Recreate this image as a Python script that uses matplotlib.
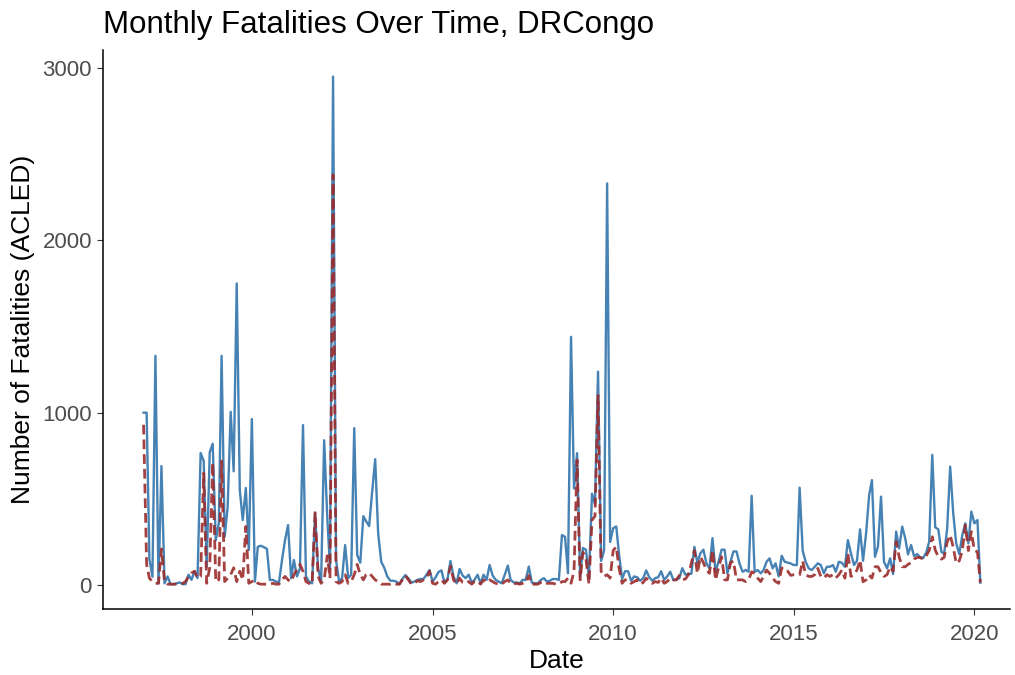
import numpy as np
import pandas as pd
import matplotlib
matplotlib.use("Agg")
import matplotlib.pyplot as plt
import matplotlib.dates as mdates

# monthly fatalities, Jan 1997 - Mar 2020
start_month = "1997-01-01"
fatalities_all = [
    1000, 1000, 150, 48, 1330, 10, 690, 10, 50, 5,
    5, 10, 15, 5, 5, 60, 30, 80, 40, 766,
    720, 106, 770, 820, 260, 360, 1330, 280, 450, 1005,
    660, 1750, 550, 377, 563, 203, 963, 20, 222, 228,
    220, 210, 29, 30, 20, 15, 145, 260, 348, 40,
    145, 50, 95, 928, 50, 20, 10, 418, 95, 20,
    840, 400, 95, 2950, 145, 20, 40, 232, 40, 60,
    910, 174, 130, 400, 370, 342, 540, 730, 300, 135,
    100, 50, 25, 25, 20, 5, 35, 58, 39, 14,
    20, 30, 35, 35, 60, 87, 20, 45, 75, 85,
    15, 35, 139, 50, 10, 93, 55, 40, 60, 15,
    30, 60, 10, 60, 30, 116, 55, 30, 20, 10,
    60, 113, 30, 15, 15, 10, 30, 30, 107, 15,
    10, 10, 30, 40, 20, 25, 35, 35, 30, 290,
    280, 68, 1440, 560, 765, 45, 215, 205, 40, 530,
    470, 1238, 140, 200, 2330, 250, 330, 340, 180, 35,
    80, 80, 25, 50, 45, 25, 40, 85, 45, 25,
    40, 45, 80, 30, 50, 77, 30, 30, 40, 98,
    60, 65, 65, 222, 130, 185, 205, 126, 97, 272,
    77, 135, 205, 205, 68, 135, 195, 195, 126, 77,
    87, 77, 518, 77, 87, 68, 87, 135, 155, 97,
    126, 50, 170, 135, 130, 125, 116, 116, 565, 200,
    135, 97, 87, 106, 126, 116, 68, 106, 106, 116,
    77, 135, 129, 106, 261, 184, 116, 141, 323, 141,
    300, 522, 609, 164, 223, 513, 135, 97, 155, 64,
    310, 213, 339, 271, 178, 232, 168, 180, 161, 157,
    188, 252, 755, 335, 323, 193, 180, 329, 687, 416,
    242, 180, 290, 358, 242, 426, 358, 377, 14,
]
fatalities_sub = [
    930, 120, 40, 20, 10, 10, 210, 20, 5, 5,
    5, 5, 5, 10, 20, 50, 70, 80, 40, 50,
    650, 10, 100, 710, 20, 30, 720, 20, 40, 60,
    100, 20, 80, 30, 340, 10, 20, 30, 10, 5,
    5, 5, 5, 10, 5, 5, 30, 50, 30, 20,
    60, 90, 120, 80, 20, 10, 5, 420, 50, 10,
    30, 170, 40, 2380, 20, 10, 20, 60, 10, 20,
    60, 120, 60, 30, 60, 70, 50, 30, 20, 5,
    5, 5, 5, 10, 5, 5, 30, 55, 30, 5,
    10, 25, 20, 30, 40, 80, 10, 5, 20, 30,
    10, 30, 110, 30, 5, 40, 15, 10, 20, 5,
    20, 25, 5, 30, 15, 30, 20, 10, 5, 5,
    20, 30, 10, 5, 10, 5, 10, 15, 55, 5,
    5, 5, 15, 20, 10, 10, 10, 5, 5, 20,
    20, 40, 10, 80, 725, 30, 190, 150, 5, 377,
    400, 1100, 80, 50, 60, 40, 200, 222, 100, 10,
    30, 30, 10, 20, 30, 5, 15, 40, 20, 10,
    20, 15, 40, 10, 20, 40, 30, 30, 55, 30,
    35, 60, 126, 200, 68, 164, 130, 87, 68, 203,
    29, 100, 164, 30, 30, 130, 139, 30, 30, 30,
    20, 30, 77, 68, 40, 20, 50, 87, 68, 40,
    20, 10, 100, 80, 80, 56, 60, 60, 60, 139,
    60, 50, 50, 60, 97, 50, 40, 60, 50, 60,
    41, 60, 87, 40, 184, 50, 60, 87, 145, 19,
    30, 58, 40, 106, 106, 72, 50, 60, 106, 80,
    252, 164, 106, 106, 120, 130, 150, 160, 160, 150,
    170, 200, 280, 203, 164, 150, 160, 250, 290, 220,
    126, 140, 200, 348, 200, 310, 200, 193, 14,
]
y_ticks = [0, 1000, 2000, 3000]
x_tick_years = [2000, 2005, 2010, 2015, 2020]

dates = pd.date_range(start_month, periods=len(fatalities_all), freq="MS")

plt.rcParams["font.family"] = ["Liberation Sans", "DejaVu Sans"]

fig = plt.figure(figsize=(10.15, 6.75), dpi=100)
ax = fig.add_axes([103 / 1015, 66 / 675, 907 / 1015, 559 / 675])

ax.plot(dates, fatalities_all, color="#4682B4", lw=1.7, solid_joinstyle="round")
ax.plot(dates, fatalities_sub, color="#9B2C2C", lw=2.0, alpha=0.9,
        dashes=(3.5, 1.8))

# x range in months relative to the first observation
d0 = dates[0]
ax.set_xlim(d0 - pd.DateOffset(days=int(13.5 * 30.44)),
            d0 + pd.DateOffset(days=int(287.8 * 30.44)))
ax.set_ylim(-139, 3104)

ax.set_xticks([pd.Timestamp(f"{y}-01-01") for y in x_tick_years])
ax.xaxis.set_major_formatter(mdates.DateFormatter("%Y"))
ax.set_yticks(y_ticks)

for side in ["top", "right"]:
    ax.spines[side].set_visible(False)
for side in ["left", "bottom"]:
    ax.spines[side].set_linewidth(1.1)
ax.tick_params(length=4.5, width=0.8, color="#333333", labelcolor="#4D4D4D",
               labelsize=16)
ax.tick_params(axis="x", pad=6)

ax.set_xlabel("Date", fontsize=19, labelpad=3)
ax.set_ylabel("Number of Fatalities (ACLED)", fontsize=19, labelpad=5)
ax.set_title("Monthly Fatalities Over Time, DRCongo", fontsize=22.5,
             loc="left", pad=12)

fig.savefig("out.png", dpi=100)
